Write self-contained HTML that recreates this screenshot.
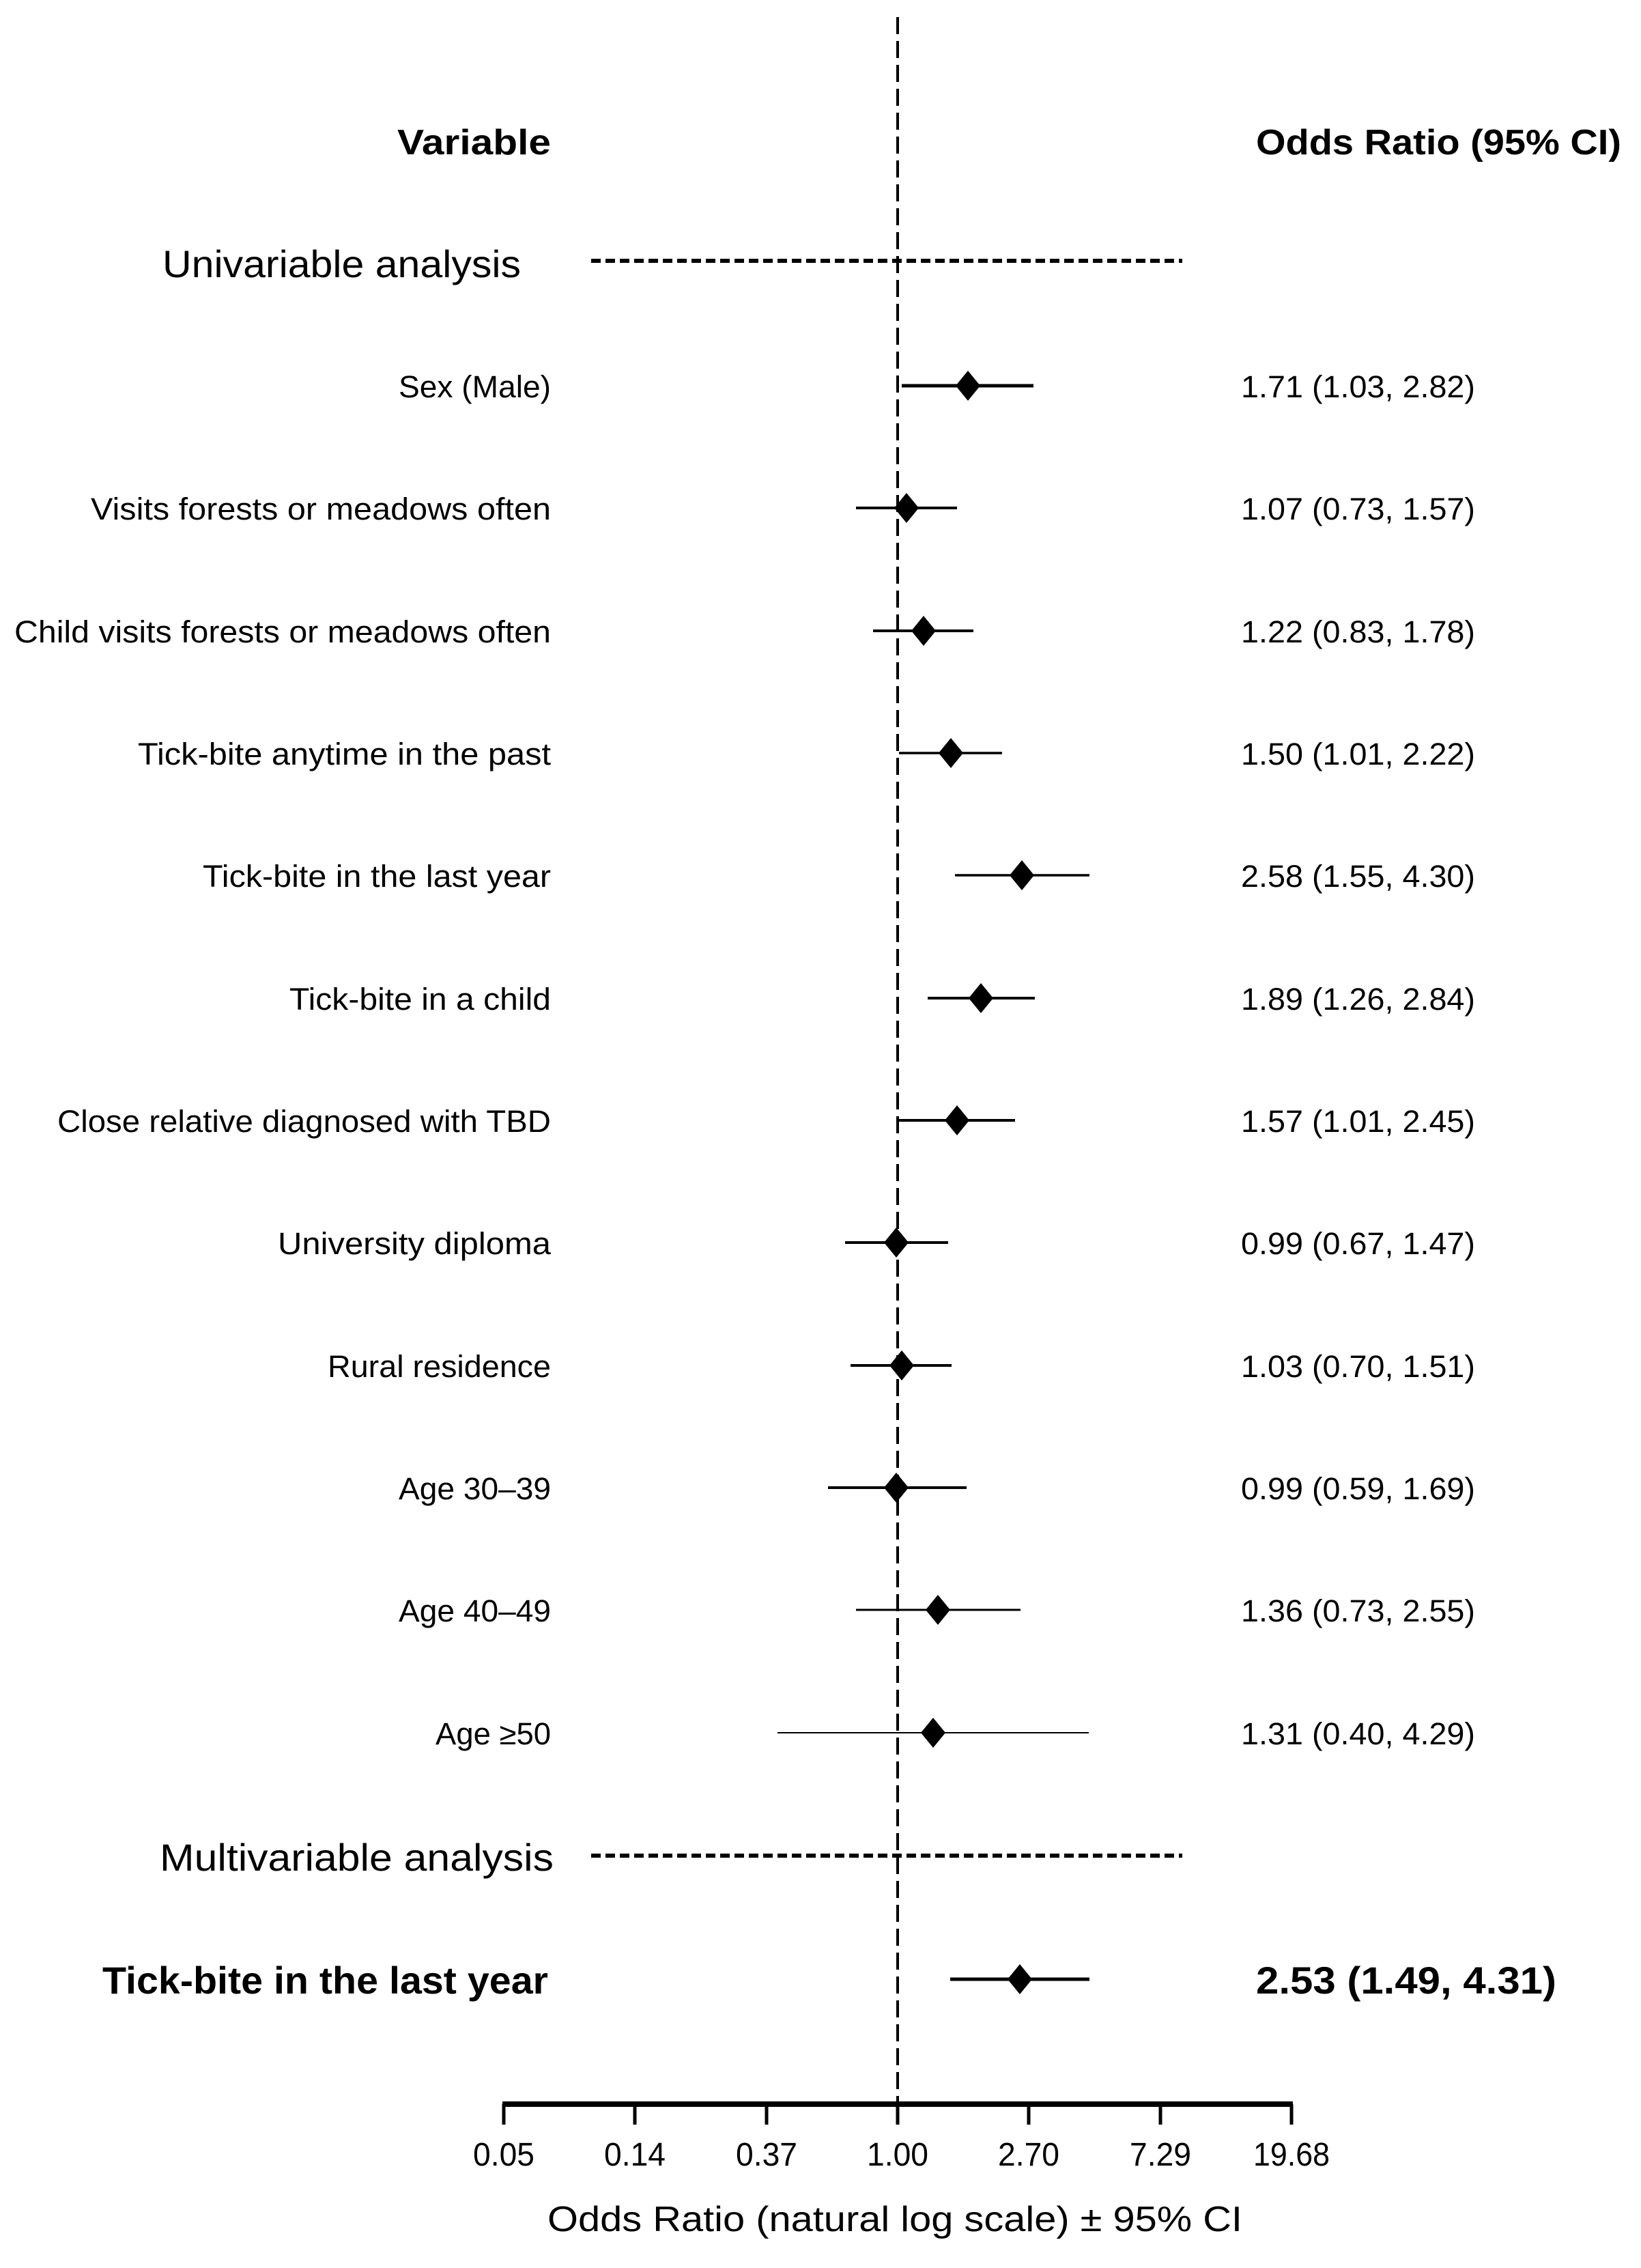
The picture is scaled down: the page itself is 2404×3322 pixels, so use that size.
<!DOCTYPE html>
<html><head><meta charset="utf-8"><style>html,body{margin:0;padding:0;background:#fff}svg{display:block}</style></head>
<body>
<svg width="2404" height="3322" viewBox="0 0 2404 3322" xmlns="http://www.w3.org/2000/svg" font-family="'Liberation Sans', sans-serif" fill="#000">
<rect width="2404" height="3322" fill="#fff"/>
<line x1="1315" y1="25" x2="1315" y2="3100" stroke="#000" stroke-width="4" stroke-dasharray="25,10"/>
<text x="807" y="226" font-size="52" font-weight="bold" text-anchor="end" textLength="225" lengthAdjust="spacingAndGlyphs">Variable</text>
<text x="1840" y="226" font-size="52" font-weight="bold" textLength="535" lengthAdjust="spacingAndGlyphs">Odds Ratio (95% CI)</text>
<text x="238" y="406" font-size="56" textLength="525" lengthAdjust="spacingAndGlyphs">Univariable analysis</text>
<line x1="866" y1="382" x2="1732" y2="382" stroke="#000" stroke-width="6" stroke-dasharray="14,7"/>
<text x="234" y="2740" font-size="56" textLength="577" lengthAdjust="spacingAndGlyphs">Multivariable analysis</text>
<line x1="866" y1="2718" x2="1732" y2="2718" stroke="#000" stroke-width="6" stroke-dasharray="14,7"/>
<g font-size="45">
<text x="807" y="582" text-anchor="end" textLength="223" lengthAdjust="spacingAndGlyphs">Sex (Male)</text>
<text x="807" y="761" text-anchor="end" textLength="674" lengthAdjust="spacingAndGlyphs">Visits forests or meadows often</text>
<text x="807" y="941" text-anchor="end" textLength="786" lengthAdjust="spacingAndGlyphs">Child visits forests or meadows often</text>
<text x="807" y="1120" text-anchor="end" textLength="605" lengthAdjust="spacingAndGlyphs">Tick-bite anytime in the past</text>
<text x="807" y="1299" text-anchor="end" textLength="510" lengthAdjust="spacingAndGlyphs">Tick-bite in the last year</text>
<text x="807" y="1479" text-anchor="end" textLength="383" lengthAdjust="spacingAndGlyphs">Tick-bite in a child</text>
<text x="807" y="1658" text-anchor="end" textLength="723" lengthAdjust="spacingAndGlyphs">Close relative diagnosed with TBD</text>
<text x="807" y="1837" text-anchor="end" textLength="400" lengthAdjust="spacingAndGlyphs">University diploma</text>
<text x="807" y="2017" text-anchor="end" textLength="327" lengthAdjust="spacingAndGlyphs">Rural residence</text>
<text x="807" y="2196" text-anchor="end" textLength="223" lengthAdjust="spacingAndGlyphs">Age 30–39</text>
<text x="807" y="2375" text-anchor="end" textLength="223" lengthAdjust="spacingAndGlyphs">Age 40–49</text>
<text x="807" y="2555" text-anchor="end" textLength="169" lengthAdjust="spacingAndGlyphs">Age ≥50</text>
<text x="1818" y="582" textLength="343" lengthAdjust="spacingAndGlyphs">1.71 (1.03, 2.82)</text>
<text x="1818" y="761" textLength="343" lengthAdjust="spacingAndGlyphs">1.07 (0.73, 1.57)</text>
<text x="1818" y="941" textLength="343" lengthAdjust="spacingAndGlyphs">1.22 (0.83, 1.78)</text>
<text x="1818" y="1120" textLength="343" lengthAdjust="spacingAndGlyphs">1.50 (1.01, 2.22)</text>
<text x="1818" y="1299" textLength="343" lengthAdjust="spacingAndGlyphs">2.58 (1.55, 4.30)</text>
<text x="1818" y="1479" textLength="343" lengthAdjust="spacingAndGlyphs">1.89 (1.26, 2.84)</text>
<text x="1818" y="1658" textLength="343" lengthAdjust="spacingAndGlyphs">1.57 (1.01, 2.45)</text>
<text x="1818" y="1837" textLength="343" lengthAdjust="spacingAndGlyphs">0.99 (0.67, 1.47)</text>
<text x="1818" y="2017" textLength="343" lengthAdjust="spacingAndGlyphs">1.03 (0.70, 1.51)</text>
<text x="1818" y="2196" textLength="343" lengthAdjust="spacingAndGlyphs">0.99 (0.59, 1.69)</text>
<text x="1818" y="2375" textLength="343" lengthAdjust="spacingAndGlyphs">1.36 (0.73, 2.55)</text>
<text x="1818" y="2555" textLength="343" lengthAdjust="spacingAndGlyphs">1.31 (0.40, 4.29)</text>
</g>
<text x="803" y="2920" font-size="56" font-weight="bold" text-anchor="end" textLength="653" lengthAdjust="spacingAndGlyphs">Tick-bite in the last year</text>
<text x="1840" y="2920" font-size="56" font-weight="bold" textLength="440" lengthAdjust="spacingAndGlyphs">2.53 (1.49, 4.31)</text>
<g stroke="#000">
<line x1="1321" y1="565" x2="1514" y2="565" stroke-width="5"/>
<line x1="1254" y1="744" x2="1402" y2="744" stroke-width="4"/>
<line x1="1279" y1="924" x2="1426" y2="924" stroke-width="4"/>
<line x1="1317" y1="1103" x2="1468" y2="1103" stroke-width="3.5"/>
<line x1="1399" y1="1282" x2="1596" y2="1282" stroke-width="3.5"/>
<line x1="1359" y1="1462" x2="1516" y2="1462" stroke-width="4"/>
<line x1="1317" y1="1641" x2="1487" y2="1641" stroke-width="4"/>
<line x1="1238" y1="1820" x2="1389" y2="1820" stroke-width="4"/>
<line x1="1246" y1="2000" x2="1394" y2="2000" stroke-width="4"/>
<line x1="1213" y1="2179" x2="1416" y2="2179" stroke-width="4"/>
<line x1="1254" y1="2358" x2="1495" y2="2358" stroke-width="3"/>
<line x1="1139" y1="2538" x2="1595" y2="2538" stroke-width="2"/>
<line x1="1392" y1="2899" x2="1596" y2="2899" stroke-width="5"/>
</g>
<g>
<path d="M1418 543 L1436 565 L1418 587 L1400 565Z"/>
<path d="M1328 722 L1346 744 L1328 766 L1310 744Z"/>
<path d="M1353 902 L1371 924 L1353 946 L1335 924Z"/>
<path d="M1393 1081 L1411 1103 L1393 1125 L1375 1103Z"/>
<path d="M1497 1260 L1515 1282 L1497 1304 L1479 1282Z"/>
<path d="M1437 1440 L1455 1462 L1437 1484 L1419 1462Z"/>
<path d="M1402 1619 L1420 1641 L1402 1663 L1384 1641Z"/>
<path d="M1313 1798 L1331 1820 L1313 1842 L1295 1820Z"/>
<path d="M1321 1978 L1339 2000 L1321 2022 L1303 2000Z"/>
<path d="M1313 2157 L1331 2179 L1313 2201 L1295 2179Z"/>
<path d="M1374 2336 L1392 2358 L1374 2380 L1356 2358Z"/>
<path d="M1367 2516 L1385 2538 L1367 2560 L1349 2538Z"/>
<path d="M1494 2877 L1512 2899 L1494 2921 L1476 2899Z"/>
</g>
<line x1="736" y1="3082" x2="1894" y2="3082" stroke="#000" stroke-width="8"/>
<g stroke="#000" stroke-width="5">
<line x1="738" y1="3082" x2="738" y2="3112"/>
<line x1="930" y1="3082" x2="930" y2="3112"/>
<line x1="1123" y1="3082" x2="1123" y2="3112"/>
<line x1="1315" y1="3082" x2="1315" y2="3112"/>
<line x1="1507" y1="3082" x2="1507" y2="3112"/>
<line x1="1700" y1="3082" x2="1700" y2="3112"/>
<line x1="1892" y1="3082" x2="1892" y2="3112"/>
</g>
<g font-size="48" text-anchor="middle">
<text x="738" y="3172" textLength="90" lengthAdjust="spacingAndGlyphs">0.05</text>
<text x="930" y="3172" textLength="90" lengthAdjust="spacingAndGlyphs">0.14</text>
<text x="1123" y="3172" textLength="90" lengthAdjust="spacingAndGlyphs">0.37</text>
<text x="1315" y="3172" textLength="90" lengthAdjust="spacingAndGlyphs">1.00</text>
<text x="1507" y="3172" textLength="90" lengthAdjust="spacingAndGlyphs">2.70</text>
<text x="1700" y="3172" textLength="90" lengthAdjust="spacingAndGlyphs">7.29</text>
<text x="1892" y="3172" textLength="112" lengthAdjust="spacingAndGlyphs">19.68</text>
</g>
<text x="1311" y="3268" font-size="52" text-anchor="middle" textLength="1018" lengthAdjust="spacingAndGlyphs">Odds Ratio (natural log scale) ± 95% CI</text>
</svg>
</body></html>
